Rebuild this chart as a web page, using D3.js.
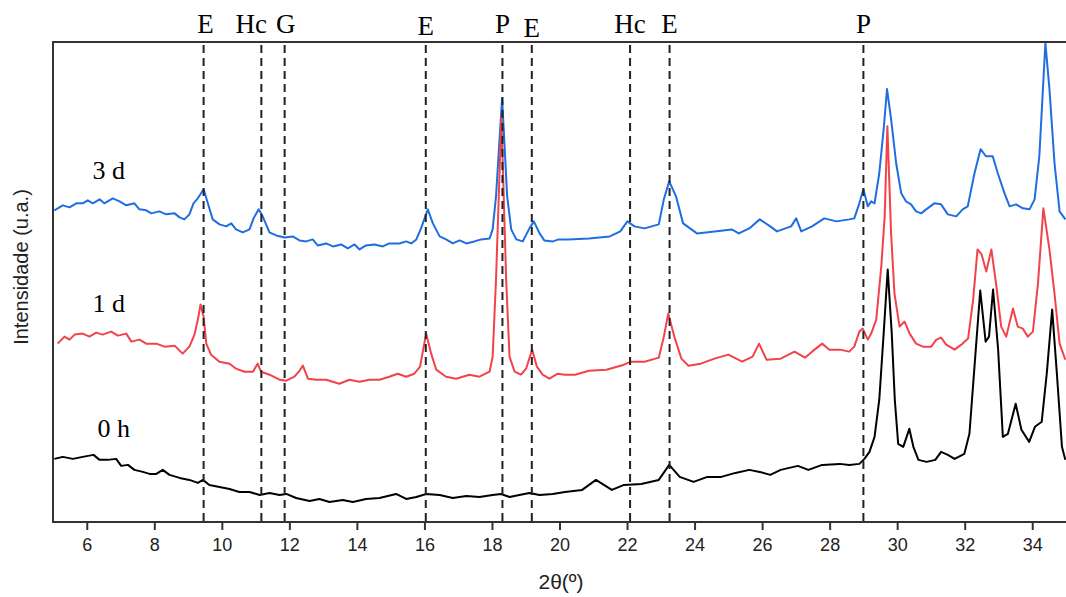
<!DOCTYPE html>
<html>
<head>
<meta charset="utf-8">
<script src="https://cdn.jsdelivr.net/npm/d3@7"></script>
<style>
  body { margin: 0; background: #fff; }
  svg { display: block; }
</style>
</head>
<body>
<div id="chart"></div>
<script>
// [2theta, intensity (a.u.)], traces already stacked
var pts0h = [[5.04,63],[5.29,65],[5.59,63],[5.88,65],[6.20,67],[6.38,62],[6.62,62],[6.87,63],[7.02,56],[7.22,57],[7.41,52],[7.66,50],[7.86,48],[8.06,48],[8.25,52],[8.45,47],[8.75,44],[9.04,42],[9.29,39],[9.44,42],[9.63,37],[9.93,35],[10.23,33],[10.52,30],[10.82,30],[11.12,27],[11.41,29],[11.71,27],[11.91,28],[12.20,24],
  [12.60,21],[12.89,23],[13.19,20],[13.58,22],[13.88,20],[14.27,23],[14.67,24],[15.16,28],[15.46,23],[15.76,25],[16.05,28],[16.45,27],[16.84,24],[17.24,26],[17.63,25],[18.02,27],[18.27,28],[18.52,25],[18.81,27],[19.11,29],[19.41,27],[19.80,28],
  [20.16,30],[20.67,32],[21.08,42],[21.55,32],[21.91,37],[22.42,38],[22.94,42],[23.25,57],[23.56,45],[23.97,40],[24.38,45],[24.79,45],[25.21,49],[25.62,52],[25.93,50],[26.24,47],[26.55,52],[27.06,56],[27.37,52],[27.78,57],[28.30,58],
  [28.58,57],[28.88,58],[29.03,63],[29.18,70],[29.33,85],[29.47,122],[29.60,188],[29.72,252],[29.84,188],[29.93,122],[30.03,78],[30.18,75],[30.36,93],[30.48,75],[30.63,62],[30.87,60],[31.13,62],[31.30,70],[31.50,67],[31.70,63],[31.99,68],[32.14,88],[32.29,155],[32.46,231],[32.62,180],[32.72,185],[32.84,232],[32.99,172],[33.13,85],[33.28,88],[33.51,118],[33.68,92],[33.91,80],[34.08,95],[34.28,100],[34.43,148],[34.59,212],[34.73,148],[34.88,75],[34.98,62]];

var pts1d = [[5.14,178],[5.34,185],[5.49,182],[5.64,187],[5.88,188],[6.08,185],[6.28,189],[6.47,187],[6.72,190],[6.92,186],[7.17,188],[7.32,180],[7.56,182],[7.76,178],[8.06,178],[8.30,175],[8.60,176],[8.84,168],[9.04,175],[9.19,187],[9.29,202],[9.37,217],[9.46,205],[9.54,178],[9.68,167],[9.93,160],[10.23,158],[10.42,153],[10.67,150],[10.92,150],[11.06,158],[11.16,150],[11.41,147],[11.71,142],[11.91,141],[12.15,145],[12.28,150],[12.40,156],
  [12.55,143],[12.79,142],[13.09,142],[13.48,138],[13.78,142],[14.08,140],[14.37,142],[14.67,142],[14.96,145],[15.21,148],[15.46,145],[15.70,148],[15.87,155],[16.05,188],[16.20,168],[16.35,152],[16.64,145],[16.94,143],[17.33,147],[17.63,145],[17.93,150],[18.02,165],[18.12,242],[18.28,405],[18.42,242],[18.52,165],[18.67,150],[18.86,147],[19.01,153],[19.19,172],[19.33,155],[19.50,147],[19.70,143],[19.95,148],
  [20.16,147],[20.46,147],[20.87,151],[21.39,152],[21.91,157],[22.11,160],[22.52,160],[22.94,164],[23.09,185],[23.22,208],[23.40,185],[23.61,163],[23.82,156],[24.18,158],[24.59,163],[25.00,167],[25.41,160],[25.72,165],[25.91,178],[26.13,162],[26.55,163],[26.96,170],[27.27,164],[27.48,170],[27.78,178],[27.99,172],[28.30,172],
  [28.58,170],[28.73,175],[28.88,190],[28.98,193],[29.13,182],[29.23,188],[29.38,202],[29.53,255],[29.63,305],[29.71,395],[29.82,288],[29.92,228],[30.07,195],[30.22,200],[30.37,188],[30.56,178],[30.76,175],[31.01,175],[31.16,182],[31.30,184],[31.45,177],[31.70,172],[31.90,177],[32.10,183],[32.25,222],[32.38,272],[32.50,267],[32.64,250],[32.79,272],[32.94,235],[33.08,195],[33.23,185],[33.43,213],[33.57,195],[33.72,193],[33.87,185],[34.02,190],[34.17,238],[34.33,313],[34.51,272],[34.66,228],[34.81,178],[34.98,162]];

var pts3d = [[5.04,311],[5.29,316],[5.49,314],[5.69,318],[5.88,318],[6.03,321],[6.18,318],[6.38,322],[6.52,318],[6.77,323],[6.97,320],[7.17,316],[7.41,318],[7.56,312],[7.76,311],[7.91,308],[8.15,310],[8.35,307],[8.60,308],[8.75,304],[8.89,302],[9.04,307],[9.16,318],[9.29,323],[9.46,332],[9.55,322],[9.73,302],[9.93,297],[10.13,295],[10.28,298],[10.42,292],[10.62,289],[10.82,292],[10.94,303],[11.09,312],[11.21,305],[11.41,289],[11.61,286],[11.86,284],[12.10,285],[12.30,281],
  [12.50,280],[12.69,282],[12.84,276],[13.09,278],[13.29,275],[13.53,277],[13.73,273],[13.93,277],[14.08,272],[14.27,276],[14.52,277],[14.77,275],[14.96,278],[15.26,278],[15.46,280],[15.61,278],[15.76,282],[15.90,293],[16.10,312],[16.25,298],[16.45,285],[16.64,282],[16.84,278],[17.04,281],[17.24,278],[17.48,280],[17.68,282],[17.93,283],[18.02,292],[18.12,325],[18.30,423],[18.45,325],[18.57,292],[18.72,282],[18.91,280],[19.11,293],[19.24,300],[19.41,288],[19.55,281],[19.80,280],[19.98,282],
  [20.26,282],[20.87,283],[21.49,285],[21.80,290],[22.01,300],[22.22,295],[22.52,293],[22.94,297],[23.09,322],[23.25,340],[23.45,325],[23.66,298],[24.07,288],[24.59,290],[25.10,292],[25.31,288],[25.62,293],[25.93,302],[26.24,295],[26.44,290],[26.86,295],[27.01,303],[27.16,290],[27.48,295],[27.84,303],[28.20,300],
  [28.58,302],[28.73,303],[28.88,318],[29.00,332],[29.13,315],[29.23,320],[29.33,318],[29.47,348],[29.60,392],[29.70,432],[29.82,402],[29.97,358],[30.12,328],[30.26,320],[30.41,317],[30.56,310],[30.71,308],[30.86,312],[31.10,318],[31.30,317],[31.50,307],[31.75,305],[31.94,312],[32.09,315],[32.29,348],[32.47,372],[32.63,365],[32.83,365],[32.98,348],[33.18,328],[33.33,315],[33.52,317],[33.72,313],[33.92,312],[34.07,322],[34.21,365],[34.39,478],[34.51,432],[34.66,358],[34.81,310],[34.98,302]];

// phase markers (dashed lines) and their letters
var markerPos = [9.46, 11.17, 11.86, 16.04, 18.31, 19.18, 22.09, 23.26, 29.0];
var markerTxt = ["E", "Hc", "G", "E", "P", "E", "Hc", "E", "P"];

var seriesNames = ["0 h", "1 d", "3 d"];
var seriesColors = ["#000000", "#f2434b", "#1f6ee0"];
var xTicks = [6, 8, 10, 12, 14, 16, 18, 20, 22, 24, 26, 28, 30, 32, 34];

var width = 1066, height = 597;
var margin = {top: 42, right: 0, bottom: 75, left: 53};

var svg = d3.select("#chart").append("svg")
    .attr("width", width)
    .attr("height", height);

var x = d3.scaleLinear().domain([5, 35]).range([margin.left, width - margin.right]);
var y = d3.scaleLinear().domain([0, 479]).range([height - margin.bottom, margin.top]);

var series = [
  {name: seriesNames[0], color: seriesColors[0], pts: pts0h, lx: 6.8, ly: 85},
  {name: seriesNames[1], color: seriesColors[1], pts: pts1d, lx: 6.65, ly: 210},
  {name: seriesNames[2], color: seriesColors[2], pts: pts3d, lx: 6.65, ly: 342}
];

var line = d3.line()
    .x(function(d){ return x(d[0]); })
    .y(function(d){ return y(d[1]); });

// traces, blue at the back
[2, 1, 0].forEach(function(i){
  var s = series[i];
  svg.append("path")
    .datum(s.pts)
    .attr("fill", "none")
    .attr("stroke", s.color)
    .attr("stroke-width", 2)
    .attr("stroke-linejoin", "round")
    .attr("d", line);
});

// trace names
svg.selectAll(".lbl")
    .data(series)
    .enter().append("text")
    .attr("class", "lbl")
    .attr("x", function(d){ return x(d.lx); })
    .attr("y", function(d){ return y(d.ly); })
    .attr("text-anchor", "middle")
    .style("font-family", "'Liberation Serif', 'Times New Roman', serif")
    .style("font-size", "26px")
    .text(function(d){ return d.name; });

// dashed marker lines
svg.append("g")
    .selectAll("line")
    .data(markerPos)
    .enter().append("line")
    .attr("x1", function(d){ return x(d); })
    .attr("x2", function(d){ return x(d); })
    .attr("y1", y(479) + 3)
    .attr("y2", y(0))
    .attr("stroke", "#222")
    .attr("stroke-width", 2)
    .attr("stroke-dasharray", "8,5");

// letters above the frame, the first Hc nudged left so it clears the G
var labelDx = [2, -10, 1, 0, 0, 0, 0, 0, 0];
var labelY = [33, 33, 33, 35, 33, 37, 33, 33, 33];
svg.append("g")
    .selectAll("text")
    .data(markerPos)
    .enter().append("text")
    .attr("x", function(d, i){ return x(d) + labelDx[i]; })
    .attr("y", function(d, i){ return labelY[i]; })
    .attr("text-anchor", "middle")
    .style("font-family", "'Liberation Serif', 'Times New Roman', serif")
    .style("font-size", "27px")
    .text(function(d, i){ return markerTxt[i]; });

// frame: top + left + bottom
svg.append("path")
    .attr("d", "M" + width + "," + y(479) + "H" + x(5) + "V" + y(0) + "H" + width)
    .attr("fill", "none")
    .attr("stroke", "#333")
    .attr("stroke-width", 2);

var xAxis = svg.append("g")
    .attr("transform", "translate(0," + y(0) + ")")
    .call(d3.axisBottom(x).tickValues(xTicks).tickSize(8).tickPadding(8).tickFormat(d3.format("d")));
xAxis.select(".domain").remove();
xAxis.selectAll("line").attr("stroke", "#333").attr("stroke-width", 2);
xAxis.selectAll("text")
    .attr("fill", "#222")
    .style("font-family", "'Liberation Sans', Arial, sans-serif")
    .style("font-size", "18px");

svg.append("text")
    .attr("x", 561)
    .attr("y", 589)
    .attr("text-anchor", "middle")
    .style("font-family", "'Liberation Sans', Arial, sans-serif")
    .style("font-size", "21px")
    .attr("fill", "#222")
    .text("2θ(º)");

svg.append("text")
    .attr("transform", "translate(28,267) rotate(-90)")
    .attr("text-anchor", "middle")
    .style("font-family", "'Liberation Sans', Arial, sans-serif")
    .style("font-size", "20px")
    .attr("fill", "#222")
    .text("Intensidade (u.a.)");
</script>
</body>
</html>
